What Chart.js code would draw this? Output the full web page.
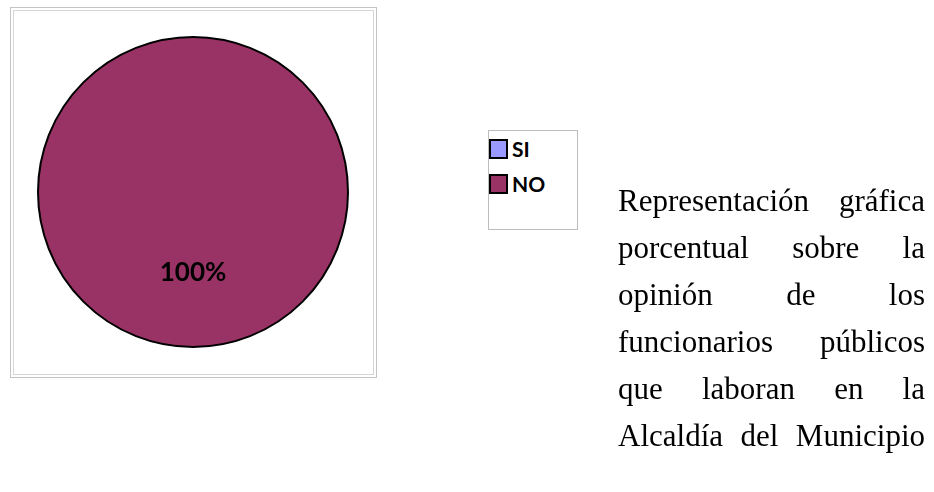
<!DOCTYPE html>
<html>
<head>
<meta charset="utf-8">
<script src="https://cdn.jsdelivr.net/npm/chart.js@4/dist/chart.umd.min.js"></script>
<style>
  html, body { margin: 0; padding: 0; background: #fff; }
  body { width: 934px; height: 492px; position: relative; overflow: hidden; }
  .frame { position: absolute; box-sizing: border-box; }
  #outer { left: 10px; top: 7px; width: 367px; height: 371px; border: 1px solid #c4c4c4; }
  #inner { left: 13px; top: 10px; width: 361px; height: 365px; border: 1px solid #d6d6d6; }
  #pie { position: absolute; left: 0; top: 0; }
  #legend {
    position: absolute; left: 488px; top: 130px; width: 90px; height: 100px;
    box-sizing: border-box; border: 1px solid #bdbdbd; background: #fff;
    font-family: Lato, sans-serif; font-weight: bold; font-size: 21px; color: #000;
  }
  .item { position: absolute; left: 0; height: 20px; line-height: 20px; }
  .swatch {
    position: absolute; left: 0; top: 0; width: 19px; height: 20px;
    box-sizing: border-box; border: 2px solid #000;
  }
  .item span { position: absolute; left: 23px; top: 0; }
  #texto {
    position: absolute; left: 618px; top: 177px; width: 307px;
    font-family: "Liberation Serif", "Times New Roman", serif; font-size: 31px;
    line-height: 47px; color: #000;
  }
  #texto div { text-align: justify; text-align-last: justify; white-space: nowrap; }
</style>
</head>
<body>
<div class="frame" id="outer"></div>
<div class="frame" id="inner"></div>
<canvas id="pie" width="934" height="492"></canvas>
<div id="legend"></div>
<div id="texto"></div>

<script>
const categories = ['SI', 'NO'];
const values = [0, 100];
const colors = ['#9999ff', '#993366'];
const textLines = [
  'Representación gráfica',
  'porcentual sobre la',
  'opinión de los',
  'funcionarios públicos',
  'que laboran en la',
  'Alcaldía del Municipio'
];

// percent label + black outline round the pie (border off to avoid the radial seam)
const pieDecor = {
  id: 'pieDecor',
  afterDatasetsDraw(chart) {
    const ctx = chart.ctx;
    const meta = chart.getDatasetMeta(0);
    const data = chart.data.datasets[0].data;
    const total = data.reduce((a, b) => a + b, 0);
    const first = meta.data[0];
    ctx.save();
    ctx.beginPath();
    ctx.arc(first.x, first.y, first.outerRadius, 0, Math.PI * 2);
    ctx.lineWidth = 2;
    ctx.strokeStyle = '#000';
    ctx.stroke();
    ctx.font = 'bold 26px Lato, sans-serif';
    ctx.fillStyle = '#000';
    ctx.textAlign = 'center';
    ctx.textBaseline = 'middle';
    meta.data.forEach((arc, i) => {
      if (!data[i]) return;
      const p = arc.tooltipPosition();
      ctx.fillText(Math.round(data[i] / total * 100) + '%', p.x, p.y + 3);
    });
    ctx.restore();
  }
};

const chart = new Chart(document.getElementById('pie'), {
  type: 'pie',
  data: {
    labels: categories,
    datasets: [{
      data: values,
      backgroundColor: colors,
      borderWidth: 0
    }]
  },
  options: {
    responsive: false,
    animation: false,
    events: [],
    layout: { padding: { left: 38, top: 37, right: 586, bottom: 145 } },
    plugins: {
      legend: { display: false },
      tooltip: { enabled: false }
    }
  },
  plugins: [pieDecor]
});

// legend box built from the chart's own labels/colours
const legend = document.getElementById('legend');
chart.data.labels.forEach((lab, i) => {
  const item = document.createElement('div');
  item.className = 'item';
  item.style.top = (8 + i * 35) + 'px';
  const sw = document.createElement('div');
  sw.className = 'swatch';
  sw.style.background = chart.data.datasets[0].backgroundColor[i];
  const t = document.createElement('span');
  t.textContent = lab;
  item.appendChild(sw);
  item.appendChild(t);
  legend.appendChild(item);
});

const texto = document.getElementById('texto');
textLines.forEach(line => {
  const d = document.createElement('div');
  d.textContent = line;
  texto.appendChild(d);
});
</script>
</body>
</html>
